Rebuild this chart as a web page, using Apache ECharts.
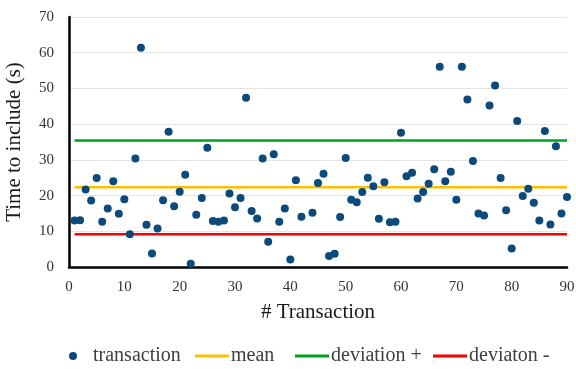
<!DOCTYPE html>
<html>
<head>
<meta charset="utf-8">
<script src="https://cdn.jsdelivr.net/npm/echarts@6/dist/echarts.min.js"></script>
<style>html,body{margin:0;padding:0;background:#fff;}#c{width:576px;height:369px;}</style>
</head>
<body>
<div id="c"></div>
<script>
const transactionIds = [1,2,3,4,5,6,7,8,9,10,11,12,13,14,15,16,17,18,19,20,21,22,23,24,25,26,27,28,29,30,31,32,33,34,35,36,37,38,39,40,41,42,44,45,46,47,48,49,50,51,52,53,54,55,56,57,58,59,60,61,62,63,64,65,66,67,68,69,70,71,72,73,74,75,76,77,78,79,80,81,82,83,84,85,86,87,88,89,90];
const times = [13.0,13.1,21.7,18.6,24.9,12.7,16.4,24.0,14.9,19.0,9.2,30.4,61.4,11.8,3.8,10.8,18.7,37.9,17.0,21.1,25.8,0.9,14.6,19.3,33.4,12.9,12.7,13.0,20.6,16.7,19.3,47.4,15.7,13.6,30.4,7.1,31.6,12.7,16.4,2.1,24.3,14.1,15.2,23.5,26.1,3.1,3.7,14.0,30.5,18.8,18.1,21.0,25.0,22.6,13.5,23.7,12.5,12.7,37.6,25.4,26.4,19.2,21.0,23.3,27.4,56.1,24.0,26.7,18.8,56.1,46.9,29.7,15.0,14.4,45.2,50.8,24.9,15.9,5.2,40.9,19.9,21.9,18.0,13.0,38.1,11.9,33.8,15.0,19.6];
const meanValue = 22.3;
const deviationPlus = 35.4;
const deviationMinus = 9.2;
const lineRange = [1, 90];
const xTicks = [0, 90, 10];
const yTicks = [0, 70, 10];

const serif = '"Liberation Serif", "DejaVu Serif", serif';
const points = transactionIds.map((id, i) => [id, times[i]]);
const hline = v => lineRange.map(x => [x, v]);

const chart = echarts.init(document.getElementById('c'), null, {renderer: 'canvas'});
const legendText = {fontFamily: serif, fontSize: 20, color: '#404040'};
chart.setOption({
  animation: false,
  grid: {left: 69, right: 9, top: 17, bottom: 102, containLabel: false, outerBoundsMode: 'none'},
  xAxis: {
    type: 'value', min: xTicks[0], max: xTicks[1], interval: xTicks[2],
    name: '# Transaction', nameLocation: 'middle', nameGap: 35,
    nameTextStyle: {fontFamily: serif, fontSize: 21, color: '#1a1a1a'},
    axisLine: {lineStyle: {color: '#000', width: 2.5}},
    axisTick: {show: false},
    axisLabel: {fontFamily: serif, fontSize: 15, color: '#333', margin: 13},
    splitLine: {show: false}
  },
  yAxis: {
    type: 'value', min: yTicks[0], max: yTicks[1], interval: yTicks[2],
    name: 'Time to include (s)', nameLocation: 'middle', nameGap: 44,
    nameTextStyle: {fontFamily: serif, fontSize: 21, color: '#1a1a1a'},
    axisLine: {show: true, lineStyle: {color: '#000', width: 2.5}},
    axisTick: {show: false},
    axisLabel: {fontFamily: serif, fontSize: 15, color: '#333', margin: 15},
    splitLine: {lineStyle: {color: '#e4e4e4', width: 1}}
  },
  legend: [
    {data: ['transaction'], icon: 'circle', itemWidth: 8, itemHeight: 8, left: 69, top: 346, padding: 0,
     textStyle: Object.assign({padding: [0,0,0,11]}, legendText)},
    {data: ['mean'], icon: 'rect', itemWidth: 34, itemHeight: 3, left: 195, top: 346, padding: 0,
     textStyle: Object.assign({padding: [0,0,0,-3]}, legendText)},
    {data: ['deviation +'], icon: 'rect', itemWidth: 34, itemHeight: 3, left: 295, top: 346, padding: 0,
     textStyle: Object.assign({padding: [0,0,0,-3]}, legendText)},
    {data: ['deviaton -'], icon: 'rect', itemWidth: 34, itemHeight: 3, left: 433, top: 346, padding: 0,
     textStyle: Object.assign({padding: [0,0,0,-3]}, legendText)}
  ],
  series: [
    {name: 'mean', type: 'line', data: hline(meanValue), showSymbol: false, lineStyle: {color: '#ffc000', width: 2.5}, itemStyle: {color: '#ffc000'}, z: 2},
    {name: 'deviation +', type: 'line', data: hline(deviationPlus), showSymbol: false, lineStyle: {color: '#00a020', width: 2.5}, itemStyle: {color: '#00a020'}, z: 2},
    {name: 'deviaton -', type: 'line', data: hline(deviationMinus), showSymbol: false, lineStyle: {color: '#ff0000', width: 2.5}, itemStyle: {color: '#ff0000'}, z: 2},
    {name: 'transaction', type: 'scatter', data: points, symbolSize: 8, itemStyle: {color: '#0c4a7c', opacity: 1}, z: 3}
  ]
});
</script>
</body>
</html>
